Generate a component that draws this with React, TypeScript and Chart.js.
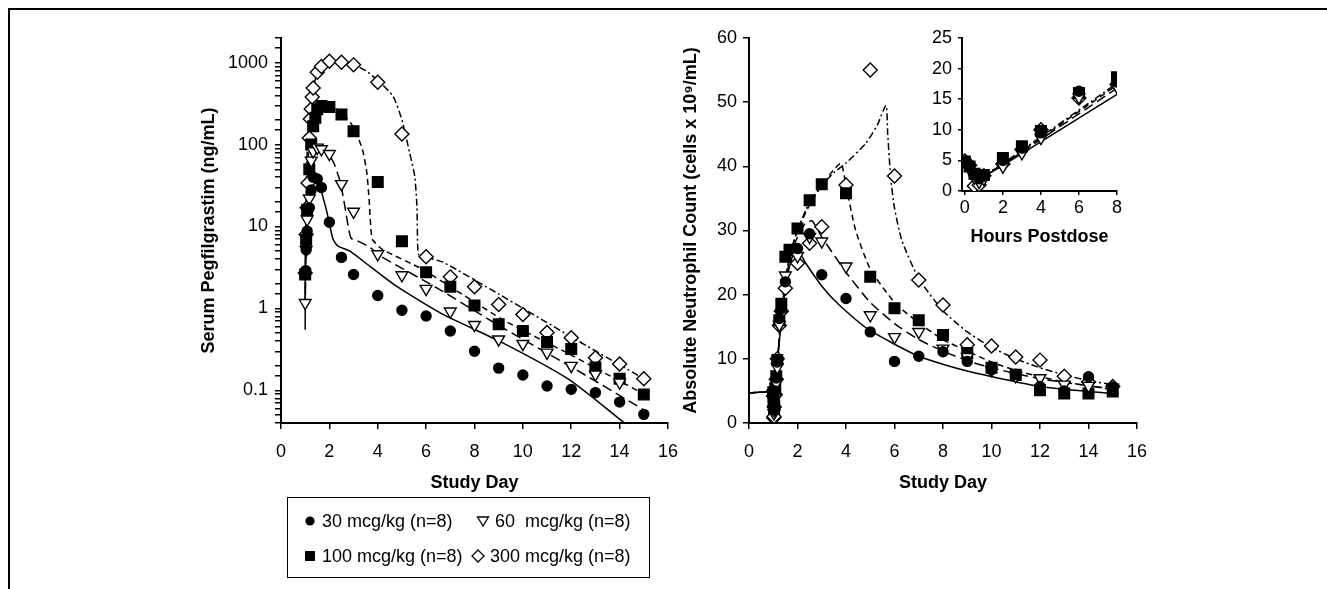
import React, { useEffect, useRef } from "react";
import { Chart, registerables } from "chart.js";
Chart.register(...registerables);

const FONT = "'Liberation Sans', Arial, Helvetica, sans-serif";

// ---------- Left panel: Serum Pegfilgrastim (ng/mL), observed ----------
const pk30Days = [1.02, 1.04, 1.08, 1.17, 1.25, 1.33, 1.5, 1.67, 2, 2.5, 3, 4, 5, 6, 7, 8, 9, 10, 11, 12, 13, 14, 15];
const pk30Vals = [2.9, 5.2, 8.8, 16.9, 28, 40, 38, 30, 11.3, 4.2, 2.6, 1.44, 0.95, 0.81, 0.53, 0.3, 0.187, 0.154, 0.113, 0.103, 0.094, 0.072, 0.051];
const pk60Days = [1.0, 1.04, 1.08, 1.17, 1.25, 1.33, 1.5, 1.67, 2, 2.5, 3, 4, 5, 6, 7, 8, 9, 10, 11, 12, 13, 14];
const pk60Vals = [1.17, 5.2, 12.2, 22, 64, 83, 92, 88, 77, 33, 15.2, 4.6, 2.55, 1.74, 0.92, 0.63, 0.42, 0.37, 0.29, 0.2, 0.157, 0.125];
const pk100Days = [1.0, 1.04, 1.08, 1.17, 1.25, 1.33, 1.42, 1.5, 1.67, 2, 2.5, 3, 4, 5, 6, 7, 8, 9, 10, 11, 12, 13, 14, 15];
const pk100Vals = [2.6, 6.9, 16, 50, 100, 167, 212, 270, 295, 288, 233, 146, 35, 6.6, 2.77, 1.84, 1.09, 0.64, 0.53, 0.39, 0.32, 0.19, 0.139, 0.089];
const pk300Days = [1.0, 1.04, 1.08, 1.12, 1.17, 1.21, 1.25, 1.29, 1.33, 1.5, 1.67, 2, 2.5, 3, 4, 5, 6, 7, 8, 9, 10, 11, 12, 13, 14, 15];
const pk300Vals = [2.7, 8, 16.9, 34, 120, 206, 272, 380, 490, 764, 900, 1040, 1010, 940, 575, 135, 4.27, 2.43, 1.84, 1.12, 0.845, 0.51, 0.44, 0.25, 0.21, 0.139];

// ---------- Left panel: model fits ----------
const pkFit30Days = [1.0, 1.005, 1.03, 1.1, 1.25, 1.4, 1.55, 1.75, 1.9, 2.02, 2.16, 2.36, 2.85, 3.67, 4.77, 6.7, 9.17, 11.9, 14.2];
const pkFit30Vals = [0.55, 3, 10, 25, 40, 42, 36, 22, 15, 10.1, 6.9, 5.75, 5.0, 3.28, 1.87, 0.845, 0.38, 0.136, 0.04];
const pkFit60Days = [1.0, 1.05, 1.15, 1.3, 1.5, 1.7, 1.95, 2.2, 2.45, 2.65, 2.78, 2.9, 3.2, 3.67, 4.12, 6.42, 9.17, 11.92, 15];
const pkFit60Vals = [1.0, 15, 45, 75, 90, 88, 78, 58, 35, 17, 10, 7.2, 6.6, 5.6, 4.35, 1.8, 0.58, 0.2, 0.058];
const pkFit100Days = [1.0, 1.05, 1.15, 1.3, 1.5, 1.75, 2.1, 2.5, 2.9, 3.2, 3.4, 3.55, 3.65, 3.72, 3.8, 4.2, 5.85, 9.17, 12, 15];
const pkFit100Vals = [1.0, 20, 90, 190, 265, 295, 292, 245, 180, 120, 80, 45, 20, 9, 6.8, 5.24, 3.0, 0.73, 0.27, 0.09];
const pkFit300Days = [1.0, 1.04, 1.1, 1.2, 1.3, 1.45, 1.7, 2.0, 2.5, 3.0, 3.5, 4.0, 4.63, 5.0, 5.32, 5.53, 5.62, 5.65, 5.7, 6.0, 6.7, 9, 12, 15];
const pkFit300Vals = [1.0, 30, 110, 260, 420, 680, 920, 1040, 1040, 950, 800, 610, 390, 200, 79, 41, 17.7, 6, 4.5, 4.2, 3.67, 1.5, 0.45, 0.139];

// ---------- Right panel: ANC (cells x 10^9/mL), observed after 8 h ----------
const anc30Days = [1.5, 2, 2.5, 3, 4, 5, 6, 7, 8, 9, 10, 11, 12, 13, 14, 15];
const anc30Vals = [22, 27.2, 29.5, 23.1, 19.4, 14.2, 9.6, 10.4, 11.1, 9.6, 8.3, 7.6, 5.7, 5.0, 7.2, 5.6];
const anc60Days = [1.5, 2, 2.5, 3, 4, 5, 6, 7, 8, 9, 10, 11, 12, 13, 14, 15];
const anc60Vals = [23, 26, 29, 28.3, 24.4, 16.8, 13.4, 14.2, 11.6, 10.3, 8.3, 7.3, 7.0, 6.0, 5.8, 5.5];
const anc100Days = [1.5, 1.67, 2, 2.5, 3, 4, 5, 6, 7, 8, 9, 10, 11, 12, 13, 14, 15];
const anc100Vals = [25.9, 27, 30.3, 34.7, 37.2, 35.8, 22.8, 17.9, 16.0, 13.7, 10.9, 8.6, 7.5, 5.1, 4.6, 4.6, 4.9];
const anc300Days = [1.5, 2, 2.5, 3, 4, 5, 6, 7, 8, 9, 10, 11, 12, 13, 14, 15];
const anc300Vals = [21, 24.9, 28.0, 30.6, 37.1, 55, 38.5, 22.3, 18.4, 12.2, 12.0, 10.3, 9.8, 7.3, 6.4, 5.7];

// ---------- Right panel: model fits ----------
const ancFit30Days = [0, 1.0, 1.02, 1.04, 1.1, 1.2, 1.33, 1.5, 1.75, 2.0, 2.34, 3.03, 3.72, 4.96, 7.0, 9.0, 12, 15];
const ancFit30Vals = [4.7, 4.7, 1.8, 2.4, 5.5, 10.5, 15.8, 21, 25.5, 27, 24.9, 21.2, 18.4, 14.5, 10.4, 8.1, 5.7, 4.6];
const ancFit60Days = [0, 1.0, 1.02, 1.04, 1.1, 1.2, 1.33, 1.5, 1.75, 2.0, 2.3, 2.6, 3.0, 4.0, 5.0, 6.0, 7.0, 8.0, 9.0, 10, 12, 15];
const ancFit60Vals = [4.7, 4.7, 1.8, 2.4, 5.5, 10.8, 16.5, 22, 26.5, 29, 31, 31.5, 29, 23.5, 18.8, 15.5, 13, 11.2, 9.7, 8.6, 6.9, 5.3];
const ancFit100Days = [0, 1.0, 1.02, 1.04, 1.1, 1.2, 1.33, 1.5, 1.75, 2.0, 2.5, 3.0, 3.5, 3.8, 4.0, 4.4, 5.0, 6.0, 7.0, 8.0, 9.0, 10, 11, 12, 13, 15];
const ancFit100Vals = [4.7, 4.7, 1.8, 2.5, 5.6, 11, 16.8, 22.5, 27, 30, 34, 37, 39.5, 40.5, 37, 30, 24, 18.8, 15.6, 13, 11.2, 9.5, 8.2, 7.2, 6.4, 5.2];
const ancFit300Days = [0, 1.0, 1.02, 1.04, 1.1, 1.2, 1.33, 1.5, 1.75, 2.0, 2.5, 3.0, 3.5, 4.0, 4.82, 5.3, 5.65, 5.72, 5.85, 6.0, 6.3, 7.0, 8.0, 9.0, 10, 11, 12, 13, 14, 15];
const ancFit300Vals = [4.7, 4.7, 1.8, 2.5, 5.6, 11, 16.8, 22.5, 27, 30, 34.5, 37, 39, 40.5, 43.6, 46.5, 49.5, 45, 38, 33.5, 28.5, 22.5, 17.5, 14.2, 11.8, 10, 8.6, 7.5, 6.6, 6.0];

// ---------- Inset: ANC during the first 8 hours postdose ----------
const insetHours = [0, 0.25, 0.5, 0.75, 1, 2, 3, 4, 6, 8];
const inset30 = [4.7, 3.9, 2.6, 2.0, 2.4, 5.0, 7.0, 9.5, 16.3, 17.8];
const inset60 = [4.6, 3.6, 2.2, 1.5, 2.0, 4.0, 6.2, 8.7, 15.3, 17.0];
const inset100 = [4.8, 4.0, 2.8, 2.2, 2.6, 5.4, 7.3, 9.8, 16.0, 18.6];
const inset300 = [4.9, 4.2, 0.8, 1.0, 2.5, 4.4, 6.8, 10.0, 15.2, 17.4];
const insetFitHours = [0, 0.6, 1, 2, 8];
const insetFit30 = [4.7, 1.8, 2.4, 4.2, 15.8];
const insetFit60 = [4.7, 1.8, 2.4, 4.3, 16.8];
const insetFit100 = [4.7, 1.8, 2.5, 4.4, 17.3];
const insetFit300 = [4.7, 1.8, 2.5, 4.5, 17.6];

const seriesLabels = ["30 mcg/kg (n=8)", "60  mcg/kg (n=8)", "100 mcg/kg (n=8)", "300 mcg/kg (n=8)"];
const logLabelValues = [0.1, 1, 10, 100, 1000];
const insetTickHours = [0, 2, 4, 6, 8];

const STYLES = [
  { pointStyle: "circle", radius: 5, rotation: 0, fill: "#000", dash: [] as number[] },
  { pointStyle: "triangle", radius: 6.8, rotation: 180, fill: "#fff", dash: [10, 5] },
  { pointStyle: "rect", radius: 7.5, rotation: 0, fill: "#000", dash: [6, 4] },
  { pointStyle: "rectRot", radius: 7, rotation: 0, fill: "#fff", dash: [7, 3, 2, 3] },
];

const pts = (xs: number[], ys: number[]) => xs.map((x, i) => ({ x, y: ys[i] }));

function buildDatasets(markers: { x: number; y: number }[][], fits: { x: number; y: number }[][]) {
  const m = markers.map((data, i) => ({
    label: seriesLabels[i],
    data,
    showLine: false,
    pointStyle: STYLES[i].pointStyle,
    pointRadius: STYLES[i].radius,
    pointRotation: STYLES[i].rotation,
    pointBackgroundColor: STYLES[i].fill,
    pointBorderColor: "#000",
    pointBorderWidth: 1.4,
  }));
  const f = fits.map((data, i) => ({
    label: seriesLabels[i] + " fit",
    data,
    showLine: true,
    pointRadius: 0,
    borderColor: "#000",
    borderWidth: 1.5,
    borderDash: STYLES[i].dash,
    tension: 0.2,
    fill: false,
  }));
  return [...m, ...f];
}

const tickFont = { family: FONT, size: 18 };
const titleFont = { family: FONT, size: 18, weight: "bold" as const };

function axisBase(tickLength: number, padding: number) {
  return {
    border: { display: true, color: "#000", width: 2 },
    grid: { drawOnChartArea: false, drawTicks: true, tickLength, color: "#000", lineWidth: 1.5 },
    ticks: { color: "#000", font: tickFont, padding, maxRotation: 0 },
  };
}

function logLabel(v: number) {
  for (const t of logLabelValues) {
    if (Math.abs(v - t) / t < 1e-6) return t >= 1 ? String(t) : "0.1";
  }
  return "";
}

function leftConfig(): any {
  const xb = axisBase(6, 12);
  const yb = axisBase(6, 7);
  return {
    type: "scatter",
    data: {
      datasets: buildDatasets(
        [pts(pk30Days, pk30Vals), pts(pk60Days, pk60Vals), pts(pk100Days, pk100Vals), pts(pk300Days, pk300Vals)],
        [pts(pkFit30Days, pkFit30Vals), pts(pkFit60Days, pkFit60Vals), pts(pkFit100Days, pkFit100Vals), pts(pkFit300Days, pkFit300Vals)]
      ),
    },
    options: {
      responsive: false,
      animation: false,
      events: [],
      layout: { padding: { left: 0, top: 18, right: 21, bottom: 0 } },
      plugins: { legend: { display: false }, tooltip: { enabled: false } },
      scales: {
        x: {
          type: "linear", min: 0, max: 16, ...xb,
          ticks: { ...xb.ticks, stepSize: 2 },
          title: { display: true, text: "Study Day", color: "#000", font: titleFont, padding: { top: 0, bottom: 6 } },
          afterFit: (s: any) => { s.height = 77; },
        },
        y: {
          type: "logarithmic", min: 0.04, max: 2000, ...yb,
          ticks: { ...yb.ticks, autoSkip: false, callback: (v: any) => logLabel(Number(v)) },
          title: { display: true, text: "Serum Pegfilgrastim (ng/mL)", color: "#000", font: titleFont, padding: { top: 28, bottom: 0 } },
          afterFit: (s: any) => { s.width = 111; },
        },
      },
    },
  };
}

function rightConfig(): any {
  const xb = axisBase(6, 12);
  const yb = axisBase(6, 6);
  const early = (vals: number[]) => pts(insetHours.map((h) => 1 + h / 24), vals);
  return {
    type: "scatter",
    data: {
      datasets: buildDatasets(
        [
          [...early(inset30), ...pts(anc30Days, anc30Vals)],
          [...early(inset60), ...pts(anc60Days, anc60Vals)],
          [...early(inset100), ...pts(anc100Days, anc100Vals)],
          [...early(inset300), ...pts(anc300Days, anc300Vals)],
        ],
        [pts(ancFit30Days, ancFit30Vals), pts(ancFit60Days, ancFit60Vals), pts(ancFit100Days, ancFit100Vals), pts(ancFit300Days, ancFit300Vals)]
      ),
    },
    options: {
      responsive: false,
      animation: false,
      events: [],
      layout: { padding: { left: 0, top: 18, right: 23, bottom: 0 } },
      plugins: { legend: { display: false }, tooltip: { enabled: false } },
      scales: {
        x: {
          type: "linear", min: 0, max: 16, ...xb,
          ticks: { ...xb.ticks, stepSize: 2 },
          title: { display: true, text: "Study Day", color: "#000", font: titleFont, padding: { top: 0, bottom: 6 } },
          afterFit: (s: any) => { s.height = 77; },
        },
        y: {
          type: "linear", min: 0, max: 60, ...yb,
          ticks: { ...yb.ticks, stepSize: 10 },
          title: { display: true, text: "Absolute Neutrophil Count (cells x 10⁹/mL)", color: "#000", font: titleFont, padding: { top: 40, bottom: 0 } },
          afterFit: (s: any) => { s.width = 109; },
        },
      },
    },
  };
}

function insetConfig(): any {
  const xb = axisBase(4, 2);
  const yb = axisBase(4, 6);
  return {
    type: "scatter",
    data: {
      datasets: buildDatasets(
        [pts(insetHours, inset30), pts(insetHours, inset60), pts(insetHours, inset100), pts(insetHours, inset300)],
        [pts(insetFitHours, insetFit30), pts(insetFitHours, insetFit60), pts(insetFitHours, insetFit100), pts(insetFitHours, insetFit300)]
      ),
    },
    options: {
      responsive: false,
      animation: false,
      events: [],
      layout: { padding: { left: 0, top: 18, right: 23, bottom: 0 } },
      plugins: { legend: { display: false }, tooltip: { enabled: false } },
      scales: {
        x: {
          type: "linear", min: -0.15, max: 8, ...xb,
          afterBuildTicks: (s: any) => { s.ticks = insetTickHours.map((v) => ({ value: v })); },
          title: { display: true, text: "Hours Postdose", color: "#000", font: titleFont, padding: { top: 0, bottom: 12 } },
          afterFit: (s: any) => { s.height = 69; },
        },
        y: {
          type: "linear", min: 0, max: 25, ...yb,
          ticks: { ...yb.ticks, stepSize: 5 },
          afterFit: (s: any) => { s.width = 62; },
        },
      },
    },
  };
}

function ChartCanvas({ make, left, top, width, height }: { make: () => any; left: number; top: number; width: number; height: number }) {
  const ref = useRef<HTMLCanvasElement | null>(null);
  useEffect(() => {
    if (!ref.current) return;
    const chart = new Chart(ref.current, make());
    return () => chart.destroy();
  }, [make]);
  return (
    <canvas
      ref={ref}
      width={width}
      height={height}
      style={{ position: "absolute", left: left - 8, top: top - 8, width, height }}
    />
  );
}

function Marker({ kind }: { kind: number }) {
  const s = 14;
  let shape: any = null;
  if (kind === 0) shape = <circle cx={7} cy={7} r={4.6} fill="#000" />;
  if (kind === 1) shape = <polygon points="1.5,3 12.5,3 7,12" fill="#fff" stroke="#000" strokeWidth={1.3} />;
  if (kind === 2) shape = <rect x={2} y={2} width={10} height={10} fill="#000" />;
  if (kind === 3) shape = <polygon points="7,1 13,7 7,13 1,7" fill="#fff" stroke="#000" strokeWidth={1.3} />;
  return (
    <svg width={s} height={s} style={{ position: "absolute", left: -19, top: 3 }}>
      {shape}
    </svg>
  );
}

function LegendItem({ idx, left, top }: { idx: number; left: number; top: number }) {
  return (
    <div style={{ position: "absolute", left, top, whiteSpace: "pre", fontFamily: FONT, fontSize: 18, lineHeight: "20px", color: "#000" }}>
      <Marker kind={idx} />
      {seriesLabels[idx]}
    </div>
  );
}

export default function App() {
  return (
    <div style={{ position: "relative", width: 1311, height: 573, background: "#fff" }}>
      <div style={{ position: "fixed", left: 8, top: 8, right: 0, bottom: 0, borderTop: "2px solid #000", borderLeft: "2px solid #000" }} />
      <ChartCanvas make={leftConfig} left={170} top={20} width={520} height={480} />
      <ChartCanvas make={rightConfig} left={640} top={20} width={520} height={480} />
      <ChartCanvas make={insetConfig} left={900} top={20} width={240} height={240} />
      <div style={{ position: "absolute", left: 287 - 8, top: 497 - 8, width: 363, height: 81, border: "1.5px solid #000", boxSizing: "border-box" }}>
        <LegendItem idx={0} left={34} top={13} />
        <LegendItem idx={1} left={207} top={13} />
        <LegendItem idx={2} left={34} top={48} />
        <LegendItem idx={3} left={202} top={48} />
      </div>
    </div>
  );
}
